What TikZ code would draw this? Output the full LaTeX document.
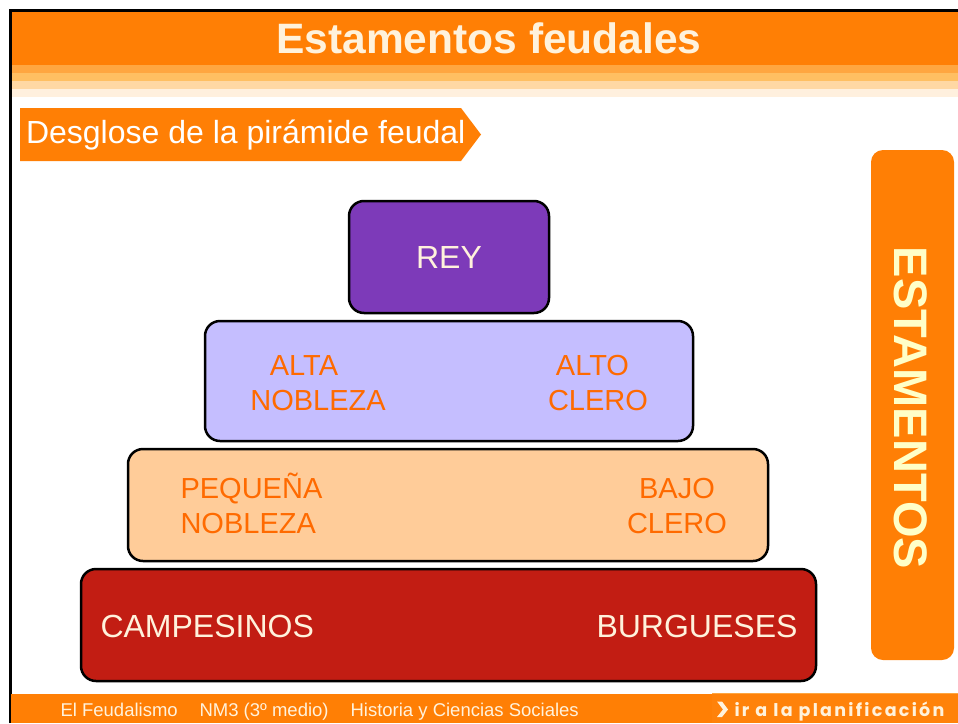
\documentclass[tikz,border=0pt]{standalone}
\usepackage{fontspec}
\setmainfont{Liberation Sans}
\newfontfamily\linkfont{Poppins}[LetterSpace=13]
\definecolor{bandorange}{HTML}{FF7F05}
\definecolor{stripea}{HTML}{FFA640}
\definecolor{stripeb}{HTML}{FFBF62}
\definecolor{stripec}{HTML}{FFD8A4}
\definecolor{striped}{HTML}{FFF0DE}
\definecolor{cream}{HTML}{FFF2DC}
\definecolor{paleyellow}{HTML}{FFFFC8}
\definecolor{reyfill}{HTML}{7D3AB9}
\definecolor{altafill}{HTML}{C5BEFF}
\definecolor{bajofill}{HTML}{FFCC99}
\definecolor{basefill}{HTML}{C21D13}
\definecolor{labelorange}{HTML}{FF6A00}
\definecolor{linkorange}{HTML}{FF820A}
\tikzset{
  level/.style={draw=black, line width=2.5pt, rounded corners=15pt, rectangle, inner sep=0pt},
  orangelabel/.style={text=labelorange, align=center, font=\fontsize{29}{35}\selectfont},
  creamlabel/.style={text=cream, font=\fontsize{32}{35}\selectfont},
}
\begin{document}
\begin{tikzpicture}[x=1pt,y=-1pt]
\useasboundingbox (0,0) rectangle (958,723);
% header band and stripes
\fill[bandorange] (11,12) rectangle (958,65);
\fill[stripea] (11,65) rectangle (958,73);
\fill[stripeb] (11,73) rectangle (958,81);
\fill[stripec] (11,81) rectangle (958,89);
\fill[striped] (11,89) rectangle (958,97);
\node[text=cream, font=\bfseries\fontsize{42.5}{43}\selectfont] (title) at (489,38) {Estamentos feudales};
% frame
\draw[line width=3pt] (10,723) -- (10,10.5) -- (958,10.5);
% subtitle banner
\fill[bandorange] (20,108) -- (461,108) -- (481,134.5) -- (461,161) -- (20,161) -- cycle;
\node[text=white, anchor=west, font=\fontsize{32}{32}\selectfont] (subtitle) at (22.5,135) {Desglose de la pirámide feudal};
% pyramid
\node[level, fill=reyfill, minimum width=200pt, minimum height=112pt, creamlabel] (rey) at (449,257) {REY};
\node[level, fill=altafill, minimum width=488pt, minimum height=120pt] (alta) at (449,381) {};
\node[level, fill=bajofill, minimum width=640pt, minimum height=112pt] (bajo) at (448,505) {};
\node[level, fill=basefill, minimum width=735pt, minimum height=112pt] (base) at (448.5,625) {};
\node[orangelabel] (altanobleza) at (318,383) {ALTA\hspace*{28pt}\\NOBLEZA};
\node[orangelabel] (altoclero) at (598,383) {ALTO\hspace*{11pt}\\CLERO};
\node[orangelabel, align=left, anchor=west] (pequena) at (177,503) {PEQUEÑA\\NOBLEZA};
\node[orangelabel] (bajoclero) at (677,506) {BAJO\\CLERO};
\node[creamlabel, anchor=west] (campesinos) at (97,626) {CAMPESINOS};
\node[creamlabel, anchor=east] (burgueses) at (801,626) {BURGUESES};
% side label
\fill[bandorange, rounded corners=12pt] (871,150) rectangle (954,660);
\node[text=paleyellow, rotate=-90, font=\bfseries\fontsize{47}{47}\selectfont] (estamentos) at (911,408) {ESTAMENTOS};
% footer
\fill[bandorange] (11,694) rectangle (958,723);
\fill[linkorange] (712,693) rectangle (958,723);
\draw[stripea, line width=1pt] (712,693.5) -- (958,693.5);
\node[text=cream, anchor=base west, font=\fontsize{18.5}{19}\selectfont] (course) at (57,716.5) {El Feudalismo};
\node[text=cream, anchor=base west, font=\fontsize{18.5}{19}\selectfont] (level) at (196,716.5) {NM3 (3º medio)};
\node[text=cream, anchor=base west, font=\fontsize{18.5}{19}\selectfont] (subject) at (347,716.5) {Historia y Ciencias Sociales};
\fill[cream] (717,701.5) -- (722,701.5) -- (728,709.5) -- (722,717) -- (717,717) -- (723,709.5) -- cycle;
\node[text=cream, anchor=base west, font=\linkfont\bfseries\fontsize{17.5}{18}\selectfont] (link) at (731,716) {ir a la planificación};
\end{tikzpicture}
\end{document}
